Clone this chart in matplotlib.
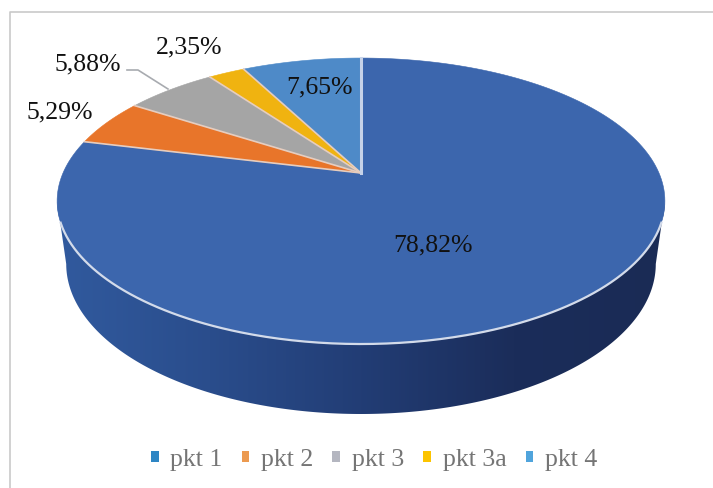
import numpy as np
import matplotlib
matplotlib.use("Agg")
import matplotlib.pyplot as plt
from matplotlib.colors import LinearSegmentedColormap
from matplotlib.patches import Patch, Polygon

categories = ["pkt 1", "pkt 2", "pkt 3", "pkt 3a", "pkt 4"]
shares = [78.82, 5.29, 5.88, 2.35, 7.65]
share_labels = ["78,82%", "5,29%", "5,88%", "2,35%", "7,65%"]
colors = ["#3c66ad", "#e8752a", "#a5a5a5", "#f0b310", "#4e8ac8"]
legend_colors = ["#2e86c4", "#ec9a50", "#b4b6c0", "#fcc400", "#50a4dc"]

plt.rcParams["font.family"] = ["Liberation Serif", "DejaVu Serif"]

# pie is tilted, so the centre sits above the middle of the ellipse
cx, cy = 361, 173
a, b, k = 137.5, 298, 0.196


def project(t, drop=0.0, sx=1.0, sy=1.0):
    u, v = np.sin(t), np.cos(t)
    d = 1 + k * v
    return cx + sx * b * u / d, cy - sy * a * v / d + drop


fig = plt.figure(figsize=(7.13, 4.88), dpi=100)
ax = fig.add_axes([0, 0, 1, 1])

# side of the pie, the lower disc is a bit narrower and rounder
t0 = np.arccos(-k)
front = np.linspace(t0, 2 * np.pi - t0, 300)
x1, y1 = project(front)
x2, y2 = project(front, drop=61.6, sx=0.97, sy=1.049)
side = Polygon(np.r_[np.c_[x1, y1], np.c_[x2, y2][::-1]], closed=True,
               fc="none", ec="none", transform=ax.transData)
ax.add_patch(side)
cmap = LinearSegmentedColormap.from_list("side", ["#315a9e", "#2a4d8c", "#223d75", "#1b2d5a", "#1a2b55"])
im = ax.imshow(np.linspace(0, 1, 256)[None, :], cmap=cmap, aspect="auto",
               extent=(57, 666, 420, 190), zorder=1)
im.set_clip_path(side)

# top of the pie, clockwise from 12 o'clock
edges = np.r_[0, np.cumsum(shares)] / sum(shares) * 2 * np.pi
for i in range(len(shares)):
    t = np.linspace(edges[i], edges[i + 1], 200)
    x, y = project(t)
    ax.fill(np.r_[cx, x], np.r_[cy, y], fc=colors[i], ec=colors[i], lw=0.4, zorder=2)

# pale lines between the slices
for e in edges[1:-1]:
    x, y = project(e)
    ax.plot([cx, x], [cy, y], color="#e6cdbf", lw=1.2, zorder=3)

# pale rim on the front edge, it fades out at both ends
rim = y1 >= 222
ax.plot(x1[rim], y1[rim], color="#d3dbea", lw=1.6, zorder=3)
# pkt 4 / pkt 1 border is lighter and wider
ax.plot([cx, cx], [cy, 58], color="#c6d2e8", lw=2.2, zorder=3)

# leader line for pkt 3
ax.plot([127, 138, 168], [70, 70, 89], color="#a8abb0", lw=1.2, zorder=3)

label_pos = [(433, 245), (60, 112), (88, 64), (189, 47), (319, 87)]
for lab, (lx, ly) in zip(share_labels, label_pos):
    ax.text(lx, ly, lab, ha="center", va="center", fontsize=18.5, color="#111111", zorder=4)

# chart frame
ax.plot([10, 10, 713], [488, 12, 12], color="#c9c9c9", lw=1.2, zorder=0)

handles = [Patch(fc=c, ec="none") for c in legend_colors]
ax.legend(handles, categories, loc="center", bbox_to_anchor=(374 / 713, 1 - 460 / 488),
          ncol=5, frameon=False, fontsize=18.5, labelcolor="#757575",
          handlelength=0.3, handleheight=0.3, handletextpad=0.45, columnspacing=0.75,
          borderpad=0, borderaxespad=0)

ax.set_xlim(0, 713)
ax.set_ylim(488, 0)
ax.axis("off")

fig.savefig("out.png", dpi=100)
